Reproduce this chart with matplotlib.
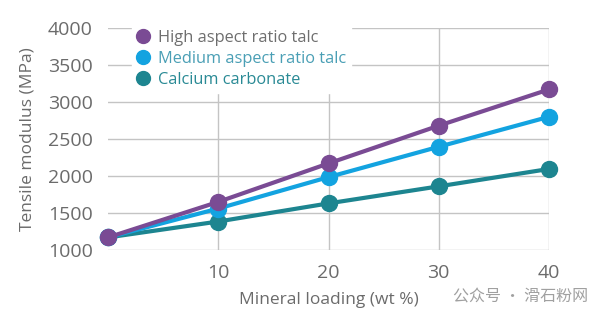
import matplotlib
matplotlib.use('Agg')
import matplotlib.pyplot as plt

plt.rcParams['font.family'] = ['Open Sans', 'DejaVu Sans']

loading = [0, 10, 20, 30, 40]
high_talc = [1170, 1650, 2170, 2680, 3170]
medium_talc = [1170, 1560, 1985, 2395, 2800]
calcium = [1170, 1385, 1630, 1860, 2095]

series = [
    ('Calcium carbonate', calcium, '#1d8590', '#2a8a95'),
    ('Medium aspect ratio talc', medium_talc, '#13a3e0', '#4a9fb5'),
    ('High aspect ratio talc', high_talc, '#7a4b94', '#6e6e6e'),
]

grey = '#6b6b6b'
fig = plt.figure(figsize=(6.08, 3.23), dpi=100)
ax = fig.add_axes([108 / 608, 1 - 250 / 323, 441 / 608, 222 / 323])

for name, vals, col, _ in series:
    ax.plot(loading, vals, color=col, lw=3, marker='o', ms=11.5,
            clip_on=False, zorder=3, label=name)

ax.set_xlim(0, 40)
ax.set_ylim(1000, 4000)
ax.set_xticks([10, 20, 30, 40])
ax.set_yticks(range(1000, 4001, 500))
ax.grid(True, color='#c4c4c4', lw=1)
ax.set_axisbelow(True)
for s in ax.spines.values():
    s.set_visible(False)
ax.tick_params(length=0, labelsize=14, labelcolor=grey)
ax.tick_params(axis='x', pad=10)
ax.tick_params(axis='y', pad=11)
ax.set_xlabel('Mineral loading (wt %)', fontsize=12.5, color=grey, labelpad=7)
ax.set_ylabel('Tensile modulus (MPa)', fontsize=12.5, color=grey, labelpad=9)

handles, labels = ax.get_legend_handles_labels()
leg = ax.legend(handles[::-1], labels[::-1], loc='upper left',
                bbox_to_anchor=(132 / 608, 1 - 25 / 323), bbox_transform=fig.transFigure,
                frameon=True, facecolor='white', edgecolor='white', framealpha=1,
                fontsize=11.8, handlelength=0.8, handletextpad=0.5,
                labelspacing=0.3, borderpad=0.3, borderaxespad=0)
for line in leg.get_lines():
    line.set_linestyle('none')
    line.set_markersize(10)
for txt, (_, _, _, tc) in zip(leg.get_texts(), series[::-1]):
    txt.set_color(tc)

fig.text(0.967, 0.08, '公众号 · 滑石粉网', fontsize=11.5, color='#a0a0a0', ha='right',
         va='center', family=['Noto Sans CJK SC', 'DejaVu Sans'])

fig.savefig('out.png', dpi=100)
